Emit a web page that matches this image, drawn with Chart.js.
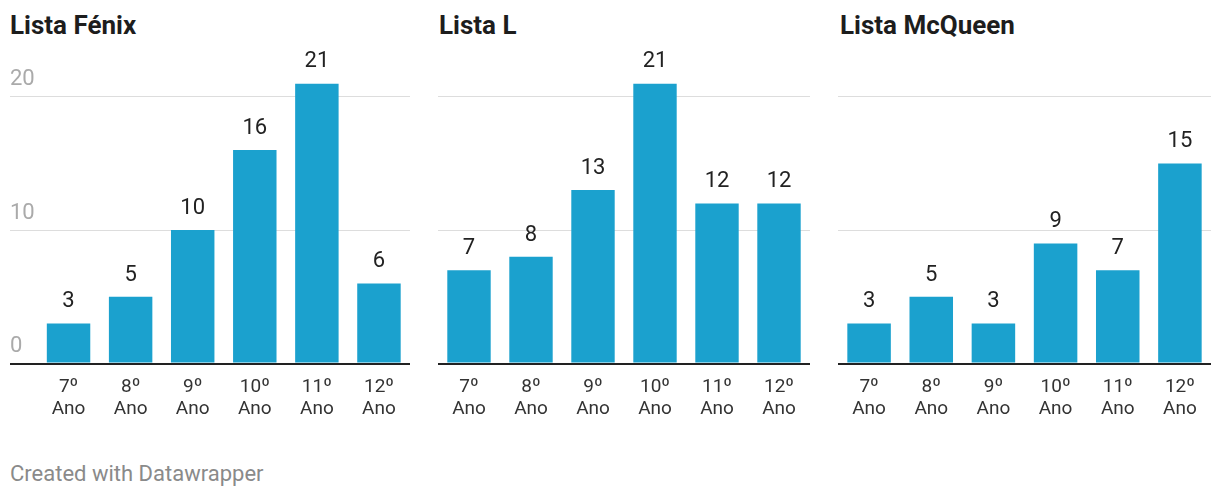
<!DOCTYPE html>
<html>
<head>
<meta charset="utf-8">
<script src="https://cdn.jsdelivr.net/npm/chart.js@4.4.1/dist/chart.umd.min.js"></script>
<style>
body{margin:0;background:#fff;width:1220px;height:496px;position:relative;overflow:hidden;font-family:Roboto,sans-serif}
.title{position:absolute;top:10px;font-weight:bold;font-size:26px;color:#1d1d1d}
canvas{position:absolute;top:0}
#foot{position:absolute;left:10px;top:461px;font-size:22px;color:#8a8a8a}
</style>
</head>
<body>
<div class="title" style="left:10px">Lista Fénix</div>
<div class="title" style="left:439px">Lista L</div>
<div class="title" style="left:840px">Lista McQueen</div>
<canvas id="c1" width="400" height="440" style="left:10px"></canvas>
<canvas id="c2" width="372" height="440" style="left:438px"></canvas>
<canvas id="c3" width="373" height="440" style="left:838px"></canvas>
<div id="foot">Created with Datawrapper</div>
<script>
var categories = [['7º','Ano'],['8º','Ano'],['9º','Ano'],['10º','Ano'],['11º','Ano'],['12º','Ano']];
var fenix = [3, 5, 10, 16, 21, 6];
var listaL = [7, 8, 13, 21, 12, 12];
var mcqueen = [3, 5, 3, 9, 7, 15];
var yMax = 21;
var yStep = 10;

var barColor = '#1ba1ce';

// numbers above the bars
var valueLabels = {
	id: 'valueLabels',
	afterDatasetsDraw: function(chart) {
		var ctx = chart.ctx;
		var meta = chart.getDatasetMeta(0);
		ctx.save();
		ctx.font = '22px Roboto';
		ctx.fillStyle = '#222';
		ctx.textAlign = 'center';
		ctx.textBaseline = 'alphabetic';
		meta.data.forEach(function(bar, i) {
			ctx.fillText(chart.data.datasets[0].data[i], bar.x, bar.y - 16);
		});
		ctx.restore();
	}
};

function makeChart(id, values, showLabels) {
	var lineCol = function(c) { return c.tick && c.tick.value === 0 ? '#222' : '#dddddd'; };
	var lineW = function(c) { return c.tick && c.tick.value === 0 ? 2 : 1; };
	return new Chart(document.getElementById(id), {
		type: 'bar',
		data: {
			labels: categories,
			datasets: [{
				data: values,
				backgroundColor: barColor,
				categoryPercentage: 1,
				barPercentage: 0.7
			}]
		},
		options: {
			responsive: false,
			animation: false,
			devicePixelRatio: 1,
			layout: { padding: { top: 83.4, left: 0, right: 0, bottom: 0 } },
			plugins: { legend: { display: false }, tooltip: { enabled: false } },
			scales: {
				x: {
					z: 1,
					grid: { display: false, drawTicks: false },
					border: { display: true, color: '#222', width: 2 },
					ticks: { color: '#333', font: { family: 'Roboto', size: 19 }, padding: 12, maxRotation: 0, autoSkip: false },
					afterFit: function(s) { s.height = 76.5; }
				},
				y: {
					min: 0,
					max: yMax,
					border: { display: false },
					grid: {
						color: lineCol,
						lineWidth: lineW,
						drawTicks: showLabels,
						tickLength: 27.5,
						tickColor: lineCol,
						tickWidth: lineW
					},
					ticks: {
						display: showLabels,
						stepSize: yStep,
						includeBounds: false,
						color: '#aaa',
						font: { family: 'Roboto', size: 22 },
						crossAlign: 'far',
						padding: 0,
						labelOffset: -17
					},
					afterFit: function(s) { s.width = showLabels ? 27.5 : 0; }
				}
			}
		},
		plugins: [valueLabels]
	});
}

makeChart('c1', fenix, true);
makeChart('c2', listaL, false);
makeChart('c3', mcqueen, false);
</script>
</body>
</html>
